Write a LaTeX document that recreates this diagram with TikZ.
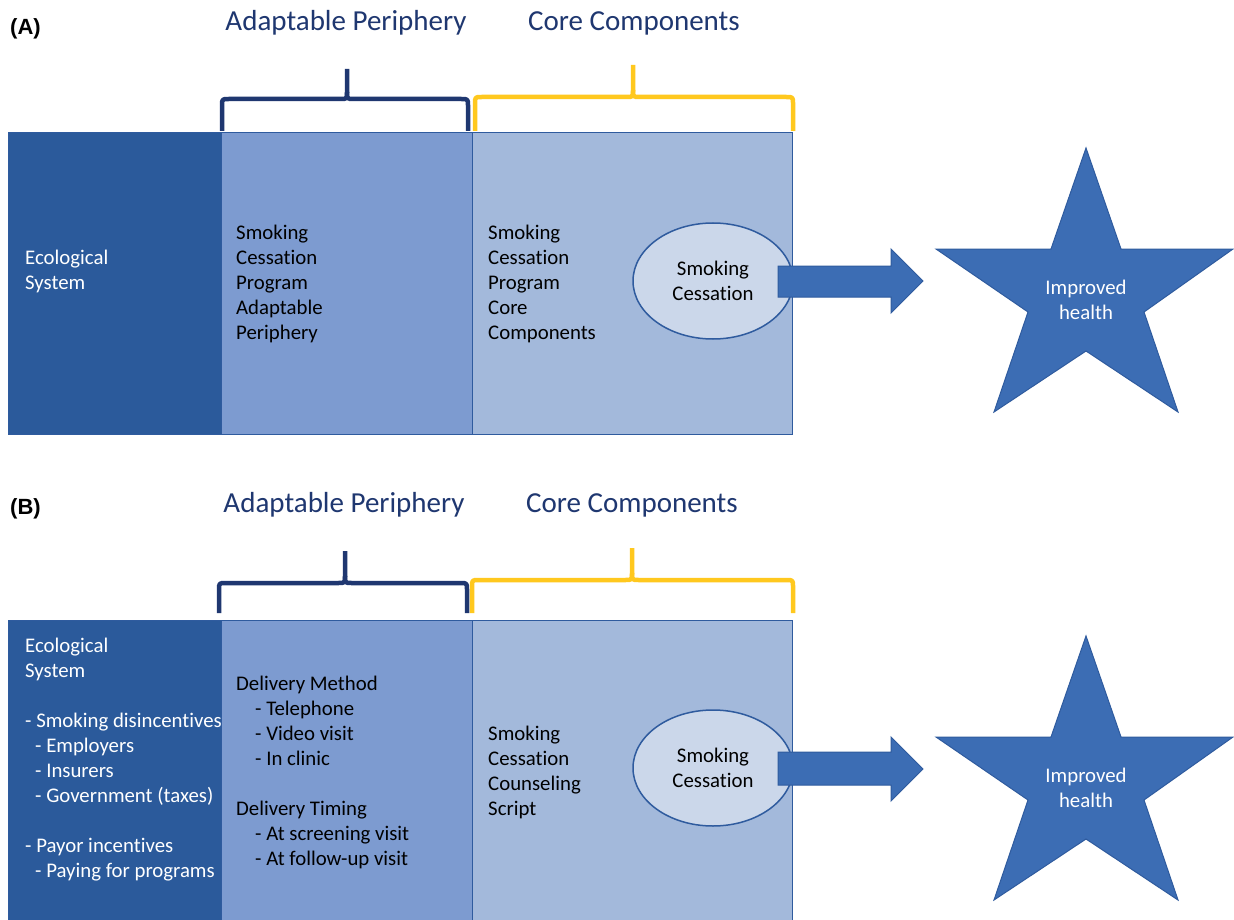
\documentclass[tikz,border=0pt]{standalone}
\usepackage{fontspec}
\setmainfont{Carlito}[Ligatures=NoCommon]
\newfontfamily\panelfont{Liberation Sans}
\usetikzlibrary{shapes.geometric}

\definecolor{ecoblue}{HTML}{2B5A9B}
\definecolor{midblue}{HTML}{7D9BD0}
\definecolor{coreblue}{HTML}{A3B9DB}
\definecolor{ovalfill}{HTML}{CBD7EA}
\definecolor{edgeblue}{HTML}{2F5B9E}
\definecolor{shapeblue}{HTML}{3C6DB4}
\definecolor{navy}{HTML}{1F3770}
\definecolor{gold}{HTML}{FFC81E}

% curly brace opening downwards: left x, right x, middle x, bar y, tip y, foot y, colour
\newcommand\curlybrace[7]{%
  \draw[bracestroke, draw=#7] (#1,#6) -- (#1,#4+7) .. controls (#1,#4) .. (#1+7,#4)
      -- (#3-7,#4) .. controls (#3,#4) .. (#3,#4-7) -- (#3,#5);
  \draw[bracestroke, draw=#7] (#3,#4-7) .. controls (#3,#4) .. (#3+7,#4)
      -- (#2-7,#4) .. controls (#2,#4) .. (#2,#4+7) -- (#2,#6);
}

\begin{document}
\begin{tikzpicture}[x=1pt,y=-1pt,
  % multi-line text nodes are placed by the baseline of their last line
  bodytext/.style={font=\fontsize{20.8}{25}\selectfont, align=left, anchor=base west, inner sep=0pt},
  heading/.style={font=\fontsize{29}{32}\selectfont, text=navy, anchor=base, inner sep=0pt},
  panellabel/.style={font=\panelfont\bfseries\fontsize{22}{24}\selectfont, anchor=base west, inner sep=0pt},
  ecobox/.style={rectangle, anchor=north west, fill=ecoblue, draw=edgeblue, line width=1.2pt, inner sep=0pt},
  midbox/.style={rectangle, anchor=north west, fill=midblue, draw=edgeblue, line width=1.2pt, inner sep=0pt},
  corebox/.style={rectangle, anchor=north west, fill=coreblue, draw=edgeblue, line width=1.2pt, inner sep=0pt},
  oval/.style={ellipse, fill=ovalfill, draw=edgeblue, line width=1.5pt, minimum width=160pt, minimum height=116pt,
    inner sep=0pt, align=center, font=\fontsize{20.8}{25}\selectfont},
  blockarrow/.style={fill=shapeblue, draw=edgeblue, line width=1pt, line join=miter},
  starshape/.style={fill=shapeblue, draw=edgeblue, line width=1pt, line join=miter},
  startext/.style={font=\fontsize{20.8}{25}\selectfont, text=white, align=center, anchor=base, inner sep=0pt},
  bracestroke/.style={line width=4.5pt, line cap=butt, line join=round},
]
\clip (0,0) rectangle (1234,920);
\fill[white] (0,0) rectangle (1234,920);

% ---------------- Panel A ----------------
\node[panellabel] (labA) at (10,35) {(A)};
\node[heading] (adaptA) at (346,31) {Adaptable Periphery};
\node[heading] (coreA) at (634,31) {Core Components};
\curlybrace{222}{468}{347}{99}{69}{131}{navy}
\curlybrace{475}{793}{633}{97}{65}{131}{gold}

\node[ecobox, minimum width=213pt, minimum height=302pt] (ecoA) at (8,132) {};
\node[midbox, minimum width=251pt, minimum height=302pt] (midA) at (221,132) {};
\node[corebox, minimum width=320pt, minimum height=302pt] (coreboxA) at (472,132) {};

\node[bodytext, text=white] (ecoTextA) at (25,289) {Ecological\\System};
\node[bodytext] (midTextA) at (236,339) {Smoking\\Cessation\\Program\\Adaptable\\Periphery};
\node[bodytext] (coreTextA) at (488,339) {Smoking\\Cessation\\Program\\Core\\Components};

\node[oval] (ovalA) at (713,281) {Smoking\\Cessation};

\draw[blockarrow] (778,266) -- (891,266) -- (891,249) -- (923,281) -- (891,313) -- (891,297) -- (778,297) -- cycle;

\draw[starshape] (1086,148) -- (1121,249) -- (1233,249) -- (1144,312) -- (1178,412) -- (1086,351)
  -- (994,412) -- (1028,312) -- (936,249) -- (1051,249) -- cycle;
\node[startext] (healthA) at (1086,319) {Improved\\health};

% ---------------- Panel B ----------------
\node[panellabel] (labB) at (10,514) {(B)};
\node[heading] (adaptB) at (344,512) {Adaptable Periphery};
\node[heading] (coreB) at (632,512) {Core Components};
\curlybrace{219}{467}{345}{583}{551}{613}{navy}
\curlybrace{472}{793}{632}{580}{548}{613}{gold}

\node[ecobox, minimum width=213pt, minimum height=320pt] (ecoB) at (8,620) {};
\node[midbox, minimum width=251pt, minimum height=320pt] (midB) at (221,620) {};
\node[corebox, minimum width=320pt, minimum height=320pt] (coreboxB) at (472,620) {};

\node[bodytext, text=white] (ecoTextB) at (25,877) {Ecological\\System\\[25pt]%
- Smoking disincentives\\\hspace*{10pt}- Employers\\\hspace*{10pt}- Insurers\\\hspace*{10pt}- Government (taxes)\\[25pt]%
- Payor incentives\\\hspace*{10pt}- Paying for programs};
\node[bodytext] (midTextB) at (236,865) {Delivery Method\\\hspace*{19pt}- Telephone\\\hspace*{19pt}- Video visit\\\hspace*{19pt}- In clinic\\[25pt]%
Delivery Timing\\\hspace*{19pt}- At screening visit\\\hspace*{19pt}- At follow-up visit};
\node[bodytext] (coreTextB) at (488,815) {Smoking\\Cessation\\Counseling\\Script};

\node[oval] (ovalB) at (713,768) {Smoking\\Cessation};

\draw[blockarrow] (778,752) -- (891,752) -- (891,737) -- (923,769) -- (891,801) -- (891,785) -- (778,785) -- cycle;

\begin{scope}[yshift=-488pt]
\draw[starshape] (1086,148) -- (1121,249) -- (1233,249) -- (1144,312) -- (1178,412) -- (1086,351)
  -- (994,412) -- (1028,312) -- (936,249) -- (1051,249) -- cycle;
\end{scope}
\node[startext] (healthB) at (1086,807) {Improved\\health};
\end{tikzpicture}
\end{document}
